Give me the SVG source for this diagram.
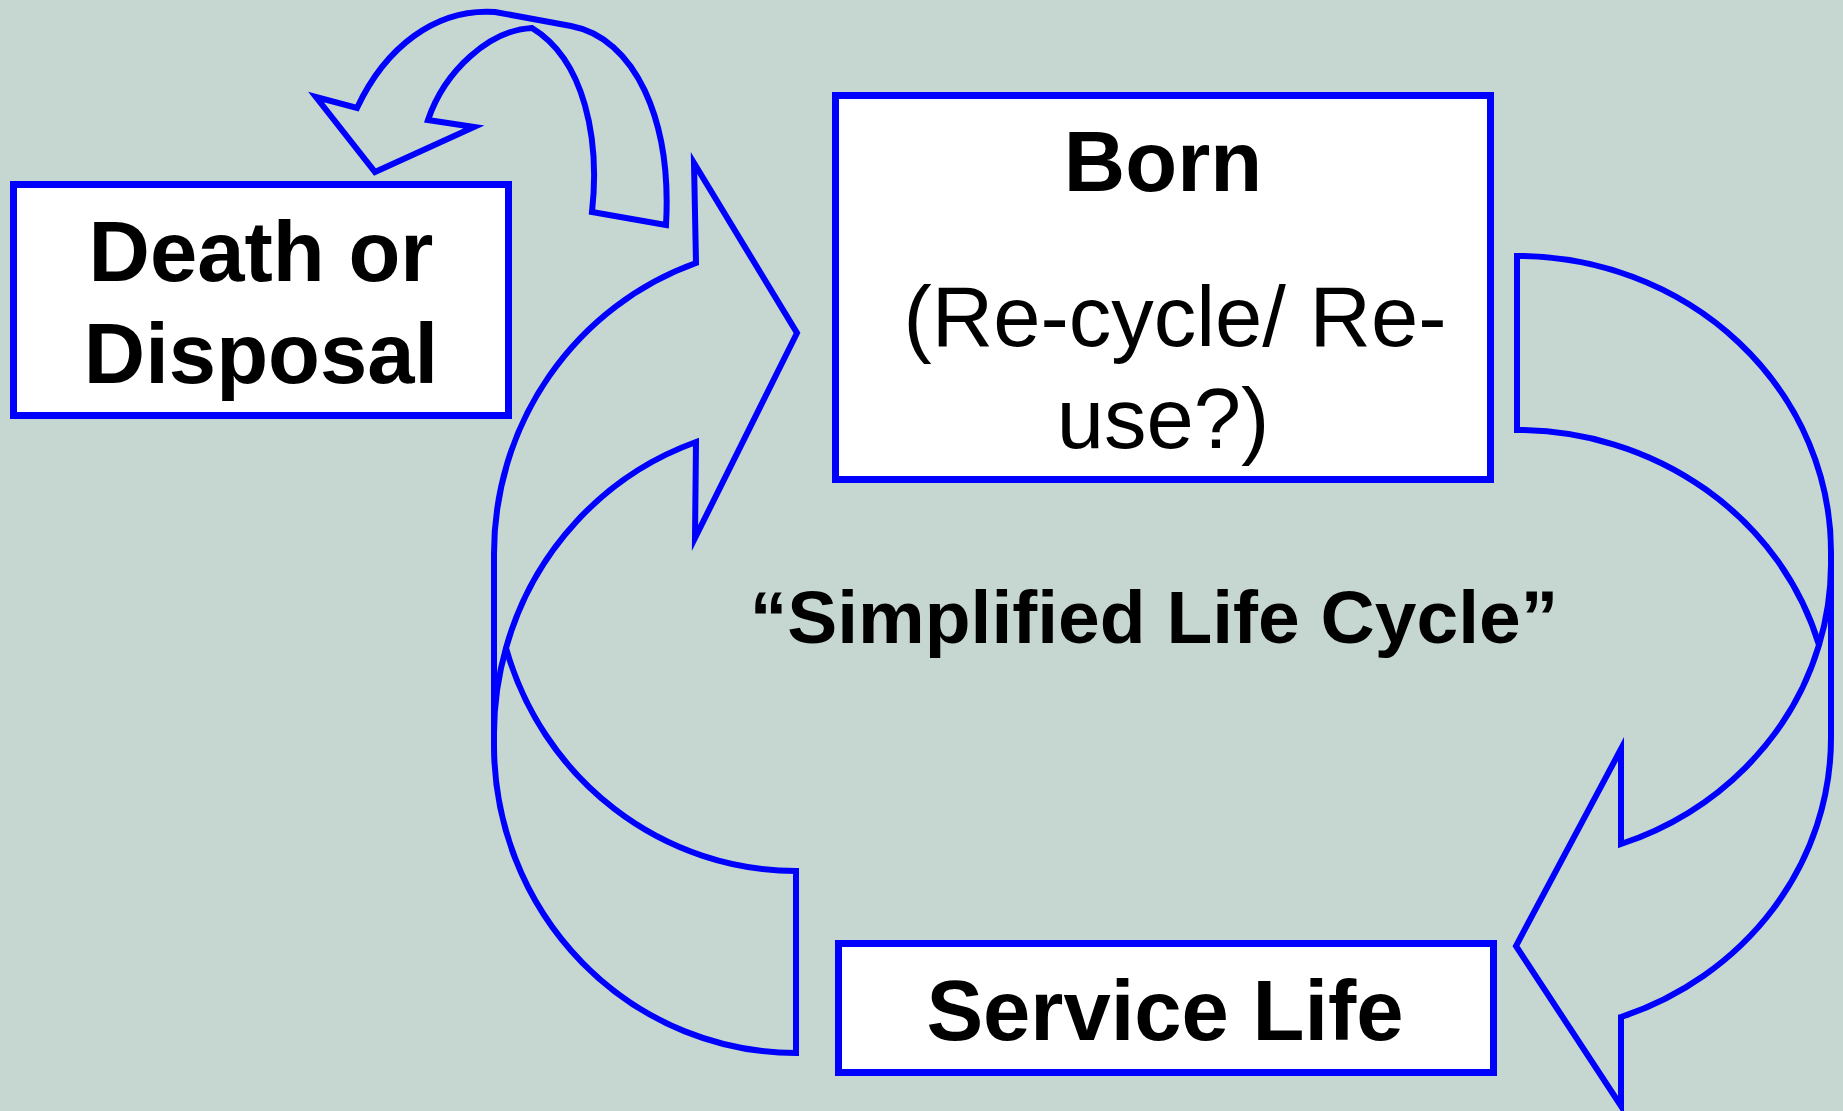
<svg xmlns="http://www.w3.org/2000/svg" width="1843" height="1111" viewBox="0 0 1843 1111">
<style>
.bg{fill:#C6D6D0}
.box{fill:#FFFFFF;stroke:#0000FF;stroke-width:7}
.arr{fill:none;stroke:#0000FF;stroke-width:6;stroke-linejoin:miter;stroke-miterlimit:10}
.t{font-family:"Liberation Sans",Arial,sans-serif;fill:#000000;text-anchor:middle}
.b{font-weight:bold}
</style>
<rect class="bg" x="0" y="0" width="1843" height="1111"/>
<g id="connectors">
  <path id="arrow-to-death" class="arr" d="M666,225 L592,212 C600,140 585,60 532,28 C490,30 445,70 428,120 L474,127 L375,172 L316,97 L357,108 C385,48 435,8 495,12 L571,26 C635,38 672,120 666,225 Z"/>
  <g id="arrow-to-born">
    <path class="arr" d="M694,163 L797,333 L695,538 L696,442 A302,308 0 0 0 506,648 A302,308 0 0 0 796,871 L796,1053 A302,308 0 0 1 494,745 L494,554 A302,308 0 0 1 696,263 Z"/>
    <path class="arr" d="M506,648 A302,308 0 0 0 494,733"/>
  </g>
  <g id="arrow-to-service">
    <path class="arr" d="M1621,749 L1516,946 L1621,1106 L1621,1017 A314,296 0 0 0 1831,738 L1831,552 A314,296 0 0 0 1517,256 L1517,430 A314,296 0 0 1 1819,645 A314,296 0 0 1 1621,844 Z"/>
    <path class="arr" d="M1819,645 A314,296 0 0 0 1831,565"/>
  </g>
</g>
<g id="node-death">
  <rect class="box" x="13.5" y="184.5" width="495" height="231"/>
  <text class="t b" x="261" y="281" font-size="85">Death or</text>
  <text class="t b" x="261" y="383" font-size="85">Disposal</text>
</g>
<g id="node-born">
  <rect class="box" x="835.5" y="95.5" width="655" height="384"/>
  <text class="t b" x="1163" y="191" font-size="85">Born</text>
  <text class="t" x="1175" y="346" font-size="85">(Re-cycle/ Re-</text>
  <text class="t" x="1163" y="448" font-size="85">use?)</text>
</g>
<g id="node-service">
  <rect class="box" x="838.5" y="943.5" width="655" height="129"/>
  <text class="t b" x="1165" y="1040" font-size="85">Service Life</text>
</g>
<g id="label-cycle">
  <text class="t b" x="1154" y="643" font-size="75">“Simplified Life Cycle”</text>
</g>
</svg>
